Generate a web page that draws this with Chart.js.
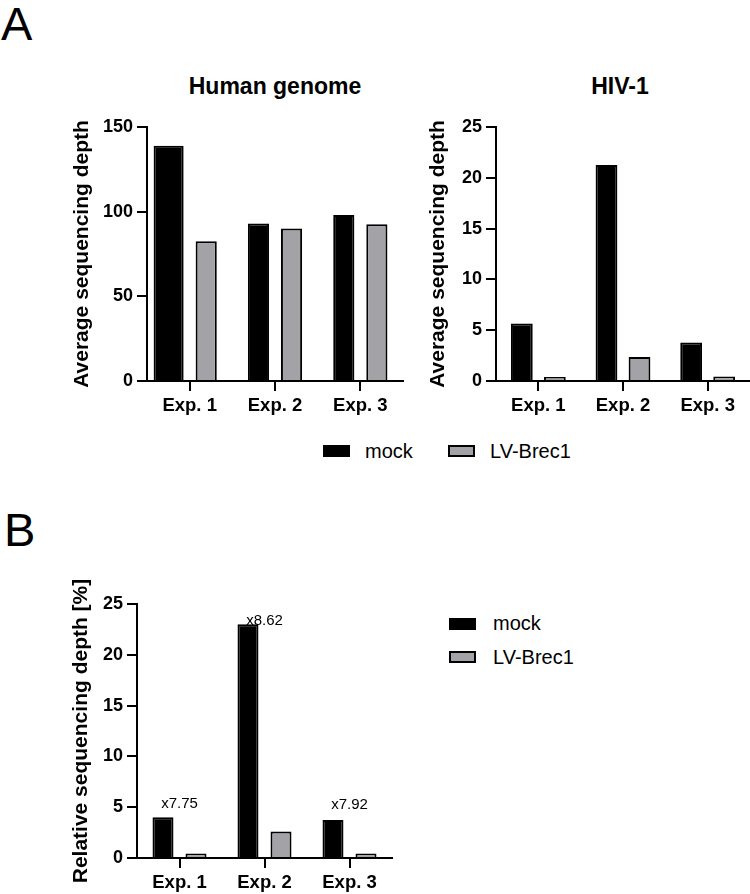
<!DOCTYPE html>
<html lang="en">
  <head>
    <meta charset="UTF-8" />
    <title>Sequencing depth</title>
    <script src="https://cdn.jsdelivr.net/npm/chart.js"></script>
    <style>
      body { margin: 0; background: #fff; font-family: "Liberation Sans", Arial, sans-serif; }
      #page { position: relative; width: 750px; height: 894px; overflow: hidden; }
      canvas, .txt, .box { position: absolute; }
      .txt { line-height: 1; white-space: nowrap; color: #000; }
      .panel { font-size: 47px; }
      .title { font-size: 23px; font-weight: bold; transform: translateX(-50%); }
      .leg { font-size: 20px; }
      .box { width: 27px; height: 12px; box-sizing: border-box; }
      .mock { background: #000; }
      .lv { background: #a2a2a7; border: 2px solid #000; }
    </style>
  </head>
  <body>
    <div id="page">
      <div class="txt panel" style="left: 1px; top: 0px">A</div>
      <div class="txt panel" style="left: 4px; top: 506px">B</div>

      <div class="txt title" style="left: 275px; top: 75px">Human genome</div>
      <div class="txt title" style="left: 620px; top: 75px">HIV-1</div>

      <canvas id="humanChart" width="415" height="380" style="left: 0; top: 60px"></canvas>
      <canvas id="hivChart" width="335" height="380" style="left: 415px; top: 60px"></canvas>
      <canvas id="relChart" width="400" height="334" style="left: 0; top: 560px"></canvas>

      <!-- legend A -->
      <div class="box mock" style="left: 323px; top: 445px"></div>
      <div class="txt leg" style="left: 365px; top: 441px">mock</div>
      <div class="box lv" style="left: 448px; top: 445px"></div>
      <div class="txt leg" style="left: 490px; top: 441px">LV-Brec1</div>

      <!-- legend B -->
      <div class="box mock" style="left: 449px; top: 618px"></div>
      <div class="txt leg" style="left: 493px; top: 613px">mock</div>
      <div class="box lv" style="left: 449px; top: 651px"></div>
      <div class="txt leg" style="left: 493px; top: 647px">LV-Brec1</div>
    </div>

    <script>
      // data
      const categories = ["Exp. 1", "Exp. 2", "Exp. 3"];
      const humanMock = [139, 93, 98];
      const humanLv = [82.5, 90, 92.5];
      const hivMock = [5.65, 21.25, 3.8];
      const hivLv = [0.4, 2.35, 0.45];
      const relMock = [4.0, 23.0, 3.75];
      const relLv = [0.45, 2.6, 0.45];
      const foldLabels = ["x7.75", "x8.62", "x7.92"];
      const foldLabelY = [5.3, 23.3, 5.2];

      const FONT = '"Liberation Sans", Arial, sans-serif';
      const MOCK_COLOR = "#000000";
      const LV_COLOR = "#a2a2a7";

      Chart.defaults.font.family = FONT;
      Chart.defaults.color = "#000";

      function bar(data, color, catPct, barPct) {
        return {
          data: data,
          backgroundColor: color,
          borderColor: "#000",
          borderWidth: 2,
          categoryPercentage: catPct,
          barPercentage: barPct,
          skipNull: true,
        };
      }

      function axisOpts(cfg) {
        return {
          x: {
            grid: {
              offset: false,
              drawOnChartArea: false,
              drawTicks: true,
              tickLength: 10,
              lineWidth: 2,
              color: "#000",
            },
            border: { display: true, color: "#000", width: 2 },
            ticks: {
              font: { size: 18.5, weight: "bold" },
              color: "#000",
              padding: 4,
              maxRotation: 0,
            },
            afterFit: (s) => { s.height = cfg.xHeight; },
          },
          y: {
            min: 0,
            max: cfg.max,
            ticks: {
              stepSize: cfg.step,
              font: { size: 18, weight: "bold" },
              color: "#000",
              padding: 4,
            },
            grid: {
              drawOnChartArea: false,
              drawTicks: true,
              tickLength: 10,
              lineWidth: 2,
              color: "#000",
            },
            border: { display: true, color: "#000", width: 2 },
            title: {
              display: true,
              text: cfg.yTitle,
              font: { size: 21, weight: "bold" },
              color: "#000",
              padding: { top: cfg.titlePad, bottom: 0 },
            },
            afterFit: (s) => { s.width = cfg.yWidth; },
          },
        };
      }

      function makeChart(id, datasets, cfg, plugins) {
        return new Chart(document.getElementById(id), {
          type: "bar",
          data: { labels: categories, datasets: datasets },
          options: {
            responsive: false,
            animation: false,
            devicePixelRatio: 1,
            layout: { padding: cfg.padding },
            plugins: { legend: { display: false }, tooltip: { enabled: false } },
            scales: axisOpts(cfg),
          },
          plugins: plugins || [],
        });
      }

      // Human genome: the Exp. 1 mock bar is drawn wider in the original
      makeChart(
        "humanChart",
        [
          bar(humanMock.map((v, i) => (i === 0 ? v : null)), MOCK_COLOR, 0.986, 0.714),
          bar(humanMock.map((v, i) => (i === 0 ? null : v)), MOCK_COLOR, 0.775, 0.64),
          bar(humanLv, LV_COLOR, 0.775, 0.64),
        ],
        {
          max: 150, step: 50, yTitle: "Average sequencing depth",
          yWidth: 147, xHeight: 59, titlePad: 70,
          padding: { top: 67, right: 12, left: 0, bottom: 0 },
        }
      );

      makeChart(
        "hivChart",
        [bar(hivMock, MOCK_COLOR, 0.78, 0.66), bar(hivLv, LV_COLOR, 0.78, 0.66)],
        {
          max: 25, step: 5, yTitle: "Average sequencing depth",
          yWidth: 81, xHeight: 59, titlePad: 11,
          padding: { top: 67, right: 0, left: 0, bottom: 0 },
        }
      );

      // fold-change labels above each group
      const foldPlugin = {
        id: "foldLabels",
        afterDatasetsDraw(chart) {
          const { ctx, scales } = chart;
          ctx.save();
          ctx.font = "15px " + FONT;
          ctx.fillStyle = "#000";
          ctx.textAlign = "center";
          ctx.textBaseline = "middle";
          foldLabels.forEach((t, i) => {
            ctx.fillText(t, scales.x.getPixelForValue(i), scales.y.getPixelForValue(foldLabelY[i]));
          });
          ctx.restore();
        },
      };

      makeChart(
        "relChart",
        [bar(relMock, MOCK_COLOR, 0.777, 0.636), bar(relLv, LV_COLOR, 0.777, 0.636)],
        {
          max: 25, step: 5, yTitle: "Relative sequencing depth [%]",
          yWidth: 137, xHeight: 36, titlePad: 69,
          padding: { top: 44, right: 8, left: 0, bottom: 0 },
        },
        [foldPlugin]
      );
    </script>
  </body>
</html>
